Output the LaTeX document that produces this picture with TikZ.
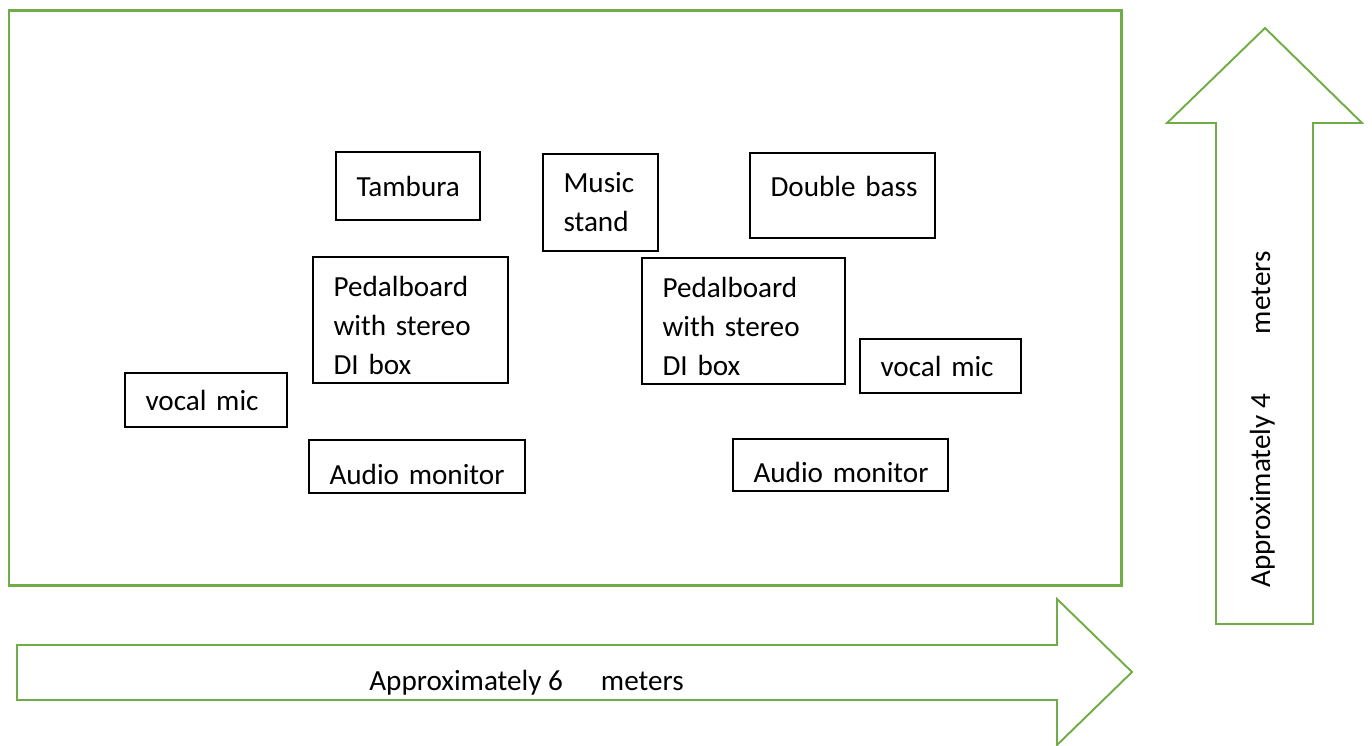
\documentclass[tikz,border=0pt]{standalone}
\usepackage{fontspec}
\setmainfont{Carlito}
\usepackage{xcolor}
\definecolor{stagegreen}{RGB}{112,173,71}
\hyphenpenalty=10000
\hbadness=10000
\hfuzz=20pt

\tikzset{
	stagebox/.style={draw=stagegreen, line width=1.7pt},
	sizearrow/.style={draw=stagegreen, line width=1.1pt, line join=miter},
	gear/.style n args={2}{draw, line width=0.8pt, inner xsep=4.1mm, inner ysep=0pt,
		text width=#1*0.2mm-8.2mm, minimum height=#2*0.2mm, align=left},
	textup/.style={text height=12pt, text depth=10.5pt},
	textdown/.style={text height=22.6pt, text depth=2.4pt},
	threelines/.style={text height=17.3pt},
}

\begin{document}
	\begin{tikzpicture}[x=0.2mm, y=-0.2mm, font=\fontsize{16.6}{22.2}\selectfont]
		\useasboundingbox (0,0) rectangle (1372,745);
		% stage
		\draw[stagebox] (9,10) rectangle (1121,585);
		%
		\node[gear={144}{68}] (tambura) at (408,186) {Tambura};
		\node[gear={115}{97}] (stand) at (600.5,202.5) {Music\\stand};
		\node[gear={185}{85}, line width=1pt, textup] (bass) at (842.5,195.5) {Double~bass};
		\node[gear={195}{126}, threelines] (pedall) at (410.5,320) {Pedalboard\\with stereo\\DI box};
		\node[gear={203}{126}, threelines] (pedalr) at (743.5,321) {Pedalboard\\with stereo\\DI box};
		\node[gear={162}{54}] (micl) at (206,400) {vocal mic};
		\node[gear={161}{54}] (micr) at (940.5,366) {vocal mic};
		\node[gear={216}{53}, textdown] (monl) at (417,466.5) {Audio~monitor};
		\node[gear={215}{52}, textdown] (monr) at (840.5,465) {Audio~monitor};
		% width and depth
		\draw[sizearrow] (17,645) -- (1057,645) -- (1057,599) -- (1132,672)
			-- (1057,745) -- (1057,700) -- (17,700) -- cycle;
		\node[anchor=base west, inner sep=0pt] (widthlabel) at (369,690)
			{Approximately 6\hspace{7.6mm}meters};
		\draw[sizearrow] (1216,624) -- (1216,123) -- (1167,123) -- (1265,28)
			-- (1362,123) -- (1313,123) -- (1313,624) -- cycle;
		\node[anchor=base west, inner sep=0pt, rotate=90] (depthlabel) at (1270,588)
			{Approximately 4\hspace{12mm}meters};
	\end{tikzpicture}
\end{document}
